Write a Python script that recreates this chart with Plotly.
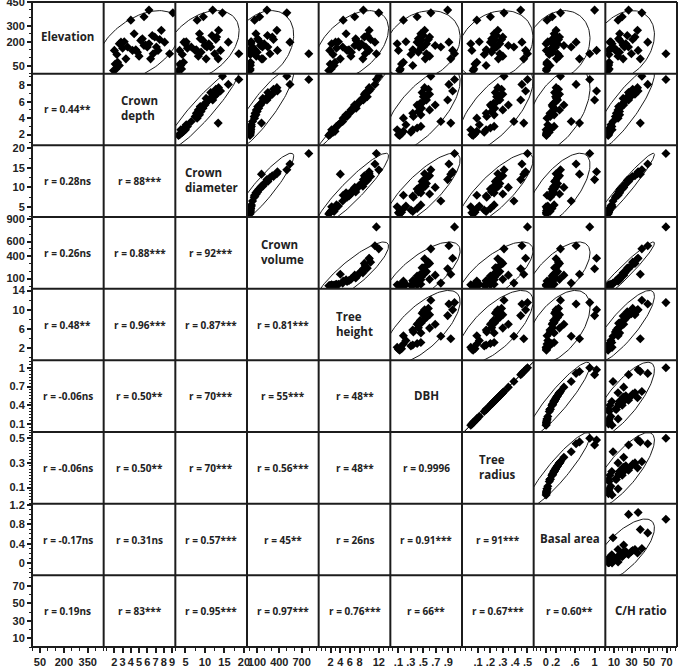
import numpy as np
import plotly.graph_objects as go

# ---------------- data (one value per tree) ----------------
elevation = [146, 30, 72, 51, 188, 198, 93, 167, 336, 146, 251, 135, 209, 219, 177, 357, 167, 188, 399,
             93, 125, 230, 167, 146, 272, 198, 125, 382, 20, 160, 150, 110, 200, 180, 240, 120, 215, 60]
crown_depth = [2.0, 2.2, 2.4, 2.6, 2.6, 2.8, 3.4, 3.6, 4.0, 4.2, 4.4, 4.8, 5.2, 5.4, 5.6, 5.6, 6.0, 6.2, 6.2,
               6.4, 6.7, 6.9, 7.1, 7.3, 7.7, 8.1, 8.7, 9.1, 1.9, 3.0, 4.6, 5.0, 3.2, 5.8, 6.6, 2.3, 7.5, 2.1]
crown_diameter = [3.5, 4.0, 4.5, 3.8, 5.0, 4.6, 13.4, 6.5, 8.0, 7.5, 8.6, 9.0, 9.5, 8.8, 10.0, 9.6, 10.5, 11.0, 12.0,
                  10.3, 12.5, 13.0, 11.5, 14.0, 13.5, 16.0, 18.7, 14.5, 3.2, 5.5, 7.8, 8.3, 5.2, 10.2, 11.8, 4.2, 12.8, 3.6]
crown_volume = [6.4, 9.2, 12.7, 9.8, 17.0, 15.5, 160, 39.8, 67, 61.9, 85.3, 101.9, 123, 109.6, 146.7, 135.2, 173.3, 196.5, 233.9,
                177.9, 274.3, 305.5, 246, 374.9, 367.6, 543, 797, 501.3, 5.1, 23.8, 73.3, 90.2, 22.7, 158, 241, 10.6, 322, 7.1]
tree_height = [1.8, 2.1, 2.9, 2.7, 2.2, 3.0, 4.0, 4.5, 4.6, 5.4, 5.2, 6.3, 7.3, 7.2, 7.0, 7.0, 7.9, 8.4, 8.8,
               8.7, 9.2, 9.0, 9.3, 10.0, 10.0, 11.2, 11.5, 12.0, 1.6, 3.2, 5.8, 6.2, 3.6, 7.8, 9.6, 2.5, 10.3, 1.9]
dbh = [0.10, 0.13, 0.18, 0.33, 0.08, 0.40, 0.94, 0.78, 0.18, 0.34, 0.46, 0.42, 0.47, 0.42, 0.69, 0.40, 0.50, 0.55, 0.89,
       0.53, 0.55, 0.60, 0.48, 0.97, 0.52, 0.91, 1.00, 0.62, 0.12, 0.46, 0.33, 0.60, 0.22, 0.45, 0.50, 0.30, 0.58, 0.15]
tree_radius = [0.05, 0.066, 0.09, 0.165, 0.041, 0.20, 0.47, 0.39, 0.09, 0.17, 0.23, 0.21, 0.235, 0.21, 0.345, 0.20, 0.25, 0.276, 0.445,
               0.265, 0.275, 0.30, 0.24, 0.485, 0.26, 0.455, 0.50, 0.31, 0.06, 0.23, 0.166, 0.30, 0.11, 0.225, 0.25, 0.15, 0.29, 0.075]
basal_area = [0.01, 0.013, 0.025, 0.085, 0.005, 0.125, 0.69, 0.52, 0.025, 0.09, 0.17, 0.14, 0.17, 0.14, 0.37, 0.13, 0.20, 0.24, 1.00,
              0.22, 0.24, 0.28, 0.18, 1.04, 0.21, 0.62, 0.90, 0.30, 0.012, 0.17, 0.085, 0.28, 0.04, 0.16, 0.20, 0.07, 0.26, 0.018]
ch_ratio = [3.6, 4.4, 4.4, 3.6, 7.7, 5.2, 40.0, 8.8, 14.6, 11.5, 16.4, 16.2, 16.8, 15.2, 21.0, 19.3, 21.9, 23.4, 26.6,
            20.4, 29.8, 33.9, 26.5, 37.5, 36.8, 48.5, 69.3, 41.8, 3.2, 7.4, 12.6, 14.5, 6.3, 20.3, 25.1, 4.2, 31.3, 3.8]

variable_names = ["Elevation", "Crown<br>depth", "Crown<br>diameter", "Crown<br>volume", "Tree<br>height",
                  "DBH", "Tree<br>radius", "Basal area", "C/H ratio"]

r_labels = {
    (1, 0): "r = 0.44**",
    (2, 0): "r = 0.28ns", (2, 1): "r = 88***",
    (3, 0): "r = 0.26ns", (3, 1): "r = 0.88***", (3, 2): "r = 92***",
    (4, 0): "r = 0.48**", (4, 1): "r = 0.96***", (4, 2): "r = 0.87***", (4, 3): "r = 0.81***",
    (5, 0): "r = -0.06ns", (5, 1): "r = 0.50**", (5, 2): "r = 70***", (5, 3): "r = 55***", (5, 4): "r = 48**",
    (6, 0): "r = -0.06ns", (6, 1): "r = 0.50**", (6, 2): "r = 70***", (6, 3): "r = 0.56***", (6, 4): "r = 48**",
    (6, 5): "r = 0.9996",
    (7, 0): "r = -0.17ns", (7, 1): "r = 0.31ns", (7, 2): "r = 0.57***", (7, 3): "r = 45**", (7, 4): "r = 26ns",
    (7, 5): "r = 0.91***", (7, 6): "r = 91***",
    (8, 0): "r = 0.19ns", (8, 1): "r = 83***", (8, 2): "r = 0.95***", (8, 3): "r = 0.97***", (8, 4): "r = 0.76***",
    (8, 5): "r = 66**", (8, 6): "r = 0.67***", (8, 7): "r = 0.60**",
}

# tick values / labels (x = bottom axis, y = left axis)
x_tickvals = [[50, 200, 350], [2, 3, 4, 5, 6, 7, 8, 9], [5, 10, 15, 20], [100, 400, 700], [2, 4, 6, 8, 12],
              [0.1, 0.3, 0.5, 0.7, 0.9], [0.1, 0.2, 0.3, 0.4, 0.5], [0, 0.2, 0.6, 1], [10, 30, 50, 70]]
x_ticktext = [["50", "200", "350"], ["2", "3", "4", "5", "6", "7", "8", "9"], ["5", "10", "15", "20"],
              ["100", "400", "700"], ["2", "4", "6", "8", "12"], [".1", ".3", ".5", ".7", ".9"],
              [".1", ".2", ".3", ".4", ".5"], ["0", ".2", ".6", "1"], ["10", "30", "50", "70"]]
y_tickvals = [[50, 200, 300, 450], [2, 4, 6, 8], [5, 10, 15, 20], [100, 400, 600, 900], [2, 6, 10, 14],
              [0.1, 0.4, 0.7, 1], [0.1, 0.3, 0.5], [0, 0.4, 0.8, 1.2], [10, 30, 50, 70]]
y_ticktext = [["50", "200", "300", "450"], ["2", "4", "6", "8"], ["5", "10", "15", "20"],
              ["100", "400", "600", "900"], ["2", "6", "10", "14"], ["0.1", "0.4", "0.7", "1"],
              ["0.1", "0.3", "0.5"], ["0", "0.4", "0.8", "1.2"], ["10", "30", "50", "70"]]

# ---------------- figure ----------------
data = [elevation, crown_depth, crown_diameter, crown_volume, tree_height, dbh, tree_radius, basal_area, ch_ratio]
ranges = [[0, 450], [0.7, 9.4], [2.4, 20.8], [-35, 930], [-0.5, 14.4], [-0.03, 1.12], [-0.03, 0.55],
          [-0.25, 1.22], [0, 82]]
x_minor = [50, 1, 2.5, 100, 1, 0.1, 0.05, 0.1, 5]
y_minor = [50, 1, 2.5, 100, 2, 0.05, 0.025, 0.1, 10]
N = 9
INK = "#1c1c1c"


def ellipse(x, y, n=120):
    x = np.asarray(x, float)
    y = np.asarray(y, float)
    cov = np.cov(x, y)
    vals, vecs = np.linalg.eigh(cov)
    vals = np.clip(vals, 0, None)
    t = np.linspace(0, 2 * np.pi, n)
    k = np.sqrt(5.991)  # 95% bivariate normal density ellipse
    pts = vecs @ (np.sqrt(vals)[:, None] * k * np.vstack([np.cos(t), np.sin(t)]))
    return x.mean() + pts[0], y.mean() + pts[1]


fig = go.Figure()
for i in range(N):
    for j in range(N):
        xa = "x" if j == 0 else f"x{j + 1}"
        ya = "y" if i == 0 else f"y{i + 1}"
        if i == j:
            fig.add_trace(go.Scatter(x=[None], y=[None], xaxis=xa, yaxis=ya, mode="markers",
                                     showlegend=False, hoverinfo="skip"))
        elif i < j:
            ex, ey = ellipse(data[j], data[i])
            fig.add_trace(go.Scatter(x=ex, y=ey, xaxis=xa, yaxis=ya, mode="lines",
                                     line=dict(color=INK, width=1), showlegend=False, hoverinfo="skip"))
            fig.add_trace(go.Scatter(x=data[j], y=data[i], xaxis=xa, yaxis=ya, mode="markers",
                                     marker=dict(symbol="diamond", size=7, color="black"),
                                     showlegend=False))

tickfont = dict(family="Liberation Sans, Arial", size=11, color="#222", weight="bold")
layout_axes = {}
for k in range(N):
    xname = "xaxis" if k == 0 else f"xaxis{k + 1}"
    yname = "yaxis" if k == 0 else f"yaxis{k + 1}"
    layout_axes[xname] = dict(
        domain=[k / N, (k + 1) / N], anchor="free", position=0, range=ranges[k], automargin=False,
        showgrid=False, zeroline=False, showline=False,
        ticks="outside", ticklen=5, tickwidth=1.5, tickcolor=INK, tickangle=0,
        tickmode="array", tickvals=x_tickvals[k], ticktext=x_ticktext[k],
        tickfont=tickfont, ticklabeloverflow="allow",
        minor=dict(ticks="outside", ticklen=3, tickwidth=1, tickcolor=INK, dtick=x_minor[k], tick0=0),
    )
    layout_axes[yname] = dict(
        domain=[1 - (k + 1) / N, 1 - k / N], anchor="free", position=0, range=ranges[k], automargin=False,
        showgrid=False, zeroline=False, showline=False,
        ticks="outside", ticklen=5, tickwidth=1.5, tickcolor=INK, tickangle=0,
        tickmode="array", tickvals=y_tickvals[k], ticktext=y_ticktext[k],
        tickfont=tickfont, ticklabeloverflow="allow",
        minor=dict(ticks="outside", ticklen=3, tickwidth=1, tickcolor=INK, dtick=y_minor[k], tick0=0),
    )

annotations = []
for i in range(N):
    cy = 1 - (i + 0.5) / N
    for j in range(N):
        cx = (j + 0.5) / N
        if i == j:
            annotations.append(dict(x=cx, y=cy, xref="paper", yref="paper", text=variable_names[i],
                                    showarrow=False, xanchor="center", yanchor="middle", align="left",
                                    yshift=1,
                                    font=dict(family="Open Sans", size=11.5, color="#222", weight="bold")))
        elif i > j:
            annotations.append(dict(x=cx, y=cy, xref="paper", yref="paper", text=r_labels[(i, j)],
                                    showarrow=False, xanchor="center", yanchor="middle",
                                    font=dict(family="Open Sans", size=10, color="#222", weight="bold")))

shapes = []
for k in range(N + 1):
    shapes.append(dict(type="line", xref="paper", yref="paper", x0=k / N, x1=k / N, y0=0, y1=1,
                       line=dict(color=INK, width=2)))
    shapes.append(dict(type="line", xref="paper", yref="paper", x0=0, x1=1, y0=k / N, y1=k / N,
                       line=dict(color=INK, width=2)))

fig.update_layout(
    width=685, height=670,
    margin=dict(l=32, r=8, t=2, b=23, autoexpand=False),
    paper_bgcolor="white", plot_bgcolor="white",
    showlegend=False,
    annotations=annotations, shapes=shapes,
    **layout_axes,
)

fig.write_html("out.html", config={"displayModeBar": False},
               post_script="document.body.style.margin='0';document.body.style.padding='0';")
